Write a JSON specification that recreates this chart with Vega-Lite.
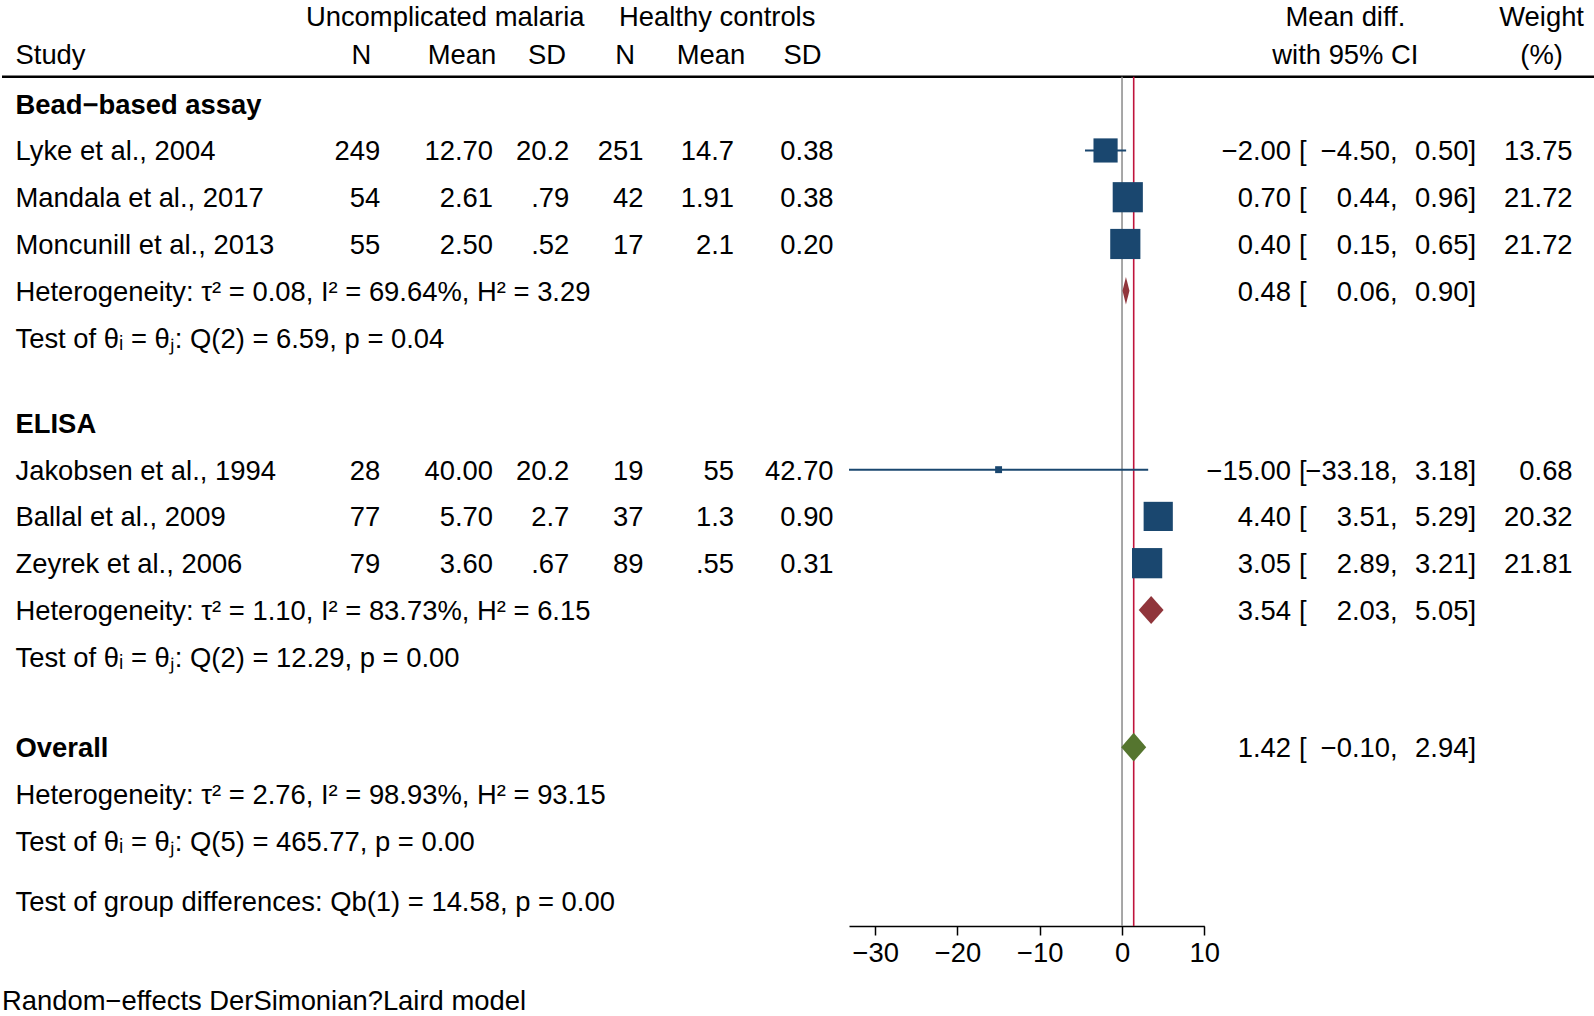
{
"$schema":"https://vega.github.io/schema/vega-lite/v6.json",
"width":1594,"height":926,"padding":0,"autosize":{"type":"pad"},"background":"#ffffff",
"config":{"view":{"stroke":null},"text":{"font":"Liberation Sans","fontSize":27.4,"color":"#000000","baseline":"middle","dy":2}},
"title":{"text":"Random−effects DerSimonian?Laird model","orient":"bottom","anchor":"start","frame":"group","font":"Liberation Sans","fontSize":27.4,"fontWeight":"normal","color":"#000000","offset":22},
"datasets":{
"rows":[
{"row":3,"kind":"study","study":"Lyke et al., 2004","n1":249,"mean1":12.70,"sd1":"20.2","n2":251,"mean2":"14.7","sd2":0.38,"es":-2.00,"lo":-4.50,"hi":0.50,"weight":13.75},
{"row":4,"kind":"study","study":"Mandala et al., 2017","n1":54,"mean1":2.61,"sd1":".79","n2":42,"mean2":"1.91","sd2":0.38,"es":0.70,"lo":0.44,"hi":0.96,"weight":21.72},
{"row":5,"kind":"study","study":"Moncunill et al., 2013","n1":55,"mean1":2.50,"sd1":".52","n2":17,"mean2":"2.1","sd2":0.20,"es":0.40,"lo":0.15,"hi":0.65,"weight":21.72},
{"row":10,"kind":"study","study":"Jakobsen et al., 1994","n1":28,"mean1":40.00,"sd1":"20.2","n2":19,"mean2":"55","sd2":42.70,"es":-15.00,"lo":-33.18,"hi":3.18,"weight":0.68},
{"row":11,"kind":"study","study":"Ballal et al., 2009","n1":77,"mean1":5.70,"sd1":"2.7","n2":37,"mean2":"1.3","sd2":0.90,"es":4.40,"lo":3.51,"hi":5.29,"weight":20.32},
{"row":12,"kind":"study","study":"Zeyrek et al., 2006","n1":79,"mean1":3.60,"sd1":".67","n2":89,"mean2":".55","sd2":0.31,"es":3.05,"lo":2.89,"hi":3.21,"weight":21.81},
{"row":6,"kind":"summary","grp":"Bead","es":0.48,"lo":0.06,"hi":0.90},
{"row":13,"kind":"summary","grp":"ELISA","es":3.54,"lo":2.03,"hi":5.05},
{"row":16,"kind":"summary","grp":"Overall","es":1.42,"lo":-0.10,"hi":2.94}
],
"labels":[
{"row":2,"label":"Bead−based assay","kind":"group"},
{"row":6,"label":"Heterogeneity: τ² = 0.08, I² = 69.64%, H² = 3.29","kind":"stat"},
{"row":7,"label":"Test of θᵢ = θⱼ: Q(2) = 6.59, p = 0.04","kind":"stat"},
{"row":9,"label":"ELISA","kind":"group"},
{"row":13,"label":"Heterogeneity: τ² = 1.10, I² = 83.73%, H² = 6.15","kind":"stat"},
{"row":14,"label":"Test of θᵢ = θⱼ: Q(2) = 12.29, p = 0.00","kind":"stat"},
{"row":16,"label":"Overall","kind":"group"},
{"row":17,"label":"Heterogeneity: τ² = 2.76, I² = 98.93%, H² = 93.15","kind":"stat"},
{"row":18,"label":"Test of θᵢ = θⱼ: Q(5) = 465.77, p = 0.00","kind":"stat"},
{"row":19,"label":"Test of group differences: Qb(1) = 14.58, p = 0.00","kind":"stat"}
]
},
"layer":[
{"layer":[
{"data":{"values":[{}]},"mark":{"type":"rule","color":"#000000","strokeWidth":2.6},
 "encoding":{"y":{"datum":1.46,"type":"quantitative","scale":{"type":"linear","domain":[0,1,2,7,9,14,16,18,19,20],"range":[16.3,53.9,103.7,337.5,422.9,656.7,747.2,840.7,900.7,926],"zero":false,"nice":false},"axis":null}}},
{"data":{"values":[{"row":0,"label":"Uncomplicated malaria"}]},"mark":{"type":"text","align":"center"},
 "encoding":{"x":{"datum":3,"type":"quantitative","scale":{"type":"linear","domain":[0,1,2,3,4,5,6,7,8,9,10,11,12,13,14,15,16,17,18,19,20,21],"range":[13.5,359.4,378.2,443.2,460,491,545,567.3,623.2,641.5,709,715.2,732,800.6,831.6,1289,1297,1343.4,1388,1466.4,1539.6,1570.6],"zero":false,"nice":false},"axis":null},
 "y":{"field":"row","type":"quantitative","scale":{"type":"linear","domain":[0,1,2,7,9,14,16,18,19,20],"range":[16.3,53.9,103.7,337.5,422.9,656.7,747.2,840.7,900.7,926],"zero":false,"nice":false},"axis":null},"text":{"field":"label"}}},
{"data":{"values":[{"row":0,"label":"Healthy controls"}]},"mark":{"type":"text","align":"center"},
 "encoding":{"x":{"datum":11,"type":"quantitative","axis":null},"y":{"field":"row","type":"quantitative","axis":null},"text":{"field":"label"}}},
{"data":{"values":[{"row":0,"label":"Mean diff."},{"row":1,"label":"with 95% CI"}]},"mark":{"type":"text","align":"center"},
 "encoding":{"x":{"datum":17,"type":"quantitative","axis":null},"y":{"field":"row","type":"quantitative","axis":null},"text":{"field":"label"}}},
{"data":{"values":[{"row":0,"label":"Weight"},{"row":1,"label":"(%)"}]},"mark":{"type":"text","align":"center"},
 "encoding":{"x":{"datum":20,"type":"quantitative","axis":null},"y":{"field":"row","type":"quantitative","axis":null},"text":{"field":"label"}}},
{"data":{"values":[{"row":1,"label":"Study"}]},"mark":{"type":"text","align":"left"},
 "encoding":{"x":{"datum":0,"type":"quantitative","axis":null},"y":{"field":"row","type":"quantitative","axis":null},"text":{"field":"label"}}},
{"data":{"values":[{"row":1,"label":"N"}]},"mark":{"type":"text","align":"center"},
 "encoding":{"x":{"datum":1,"type":"quantitative","axis":null},"y":{"field":"row","type":"quantitative","axis":null},"text":{"field":"label"}}},
{"data":{"values":[{"row":1,"label":"Mean"}]},"mark":{"type":"text","align":"center"},
 "encoding":{"x":{"datum":4,"type":"quantitative","axis":null},"y":{"field":"row","type":"quantitative","axis":null},"text":{"field":"label"}}},
{"data":{"values":[{"row":1,"label":"SD"}]},"mark":{"type":"text","align":"center"},
 "encoding":{"x":{"datum":6,"type":"quantitative","axis":null},"y":{"field":"row","type":"quantitative","axis":null},"text":{"field":"label"}}},
{"data":{"values":[{"row":1,"label":"N"}]},"mark":{"type":"text","align":"center"},
 "encoding":{"x":{"datum":8,"type":"quantitative","axis":null},"y":{"field":"row","type":"quantitative","axis":null},"text":{"field":"label"}}},
{"data":{"values":[{"row":1,"label":"Mean"}]},"mark":{"type":"text","align":"center"},
 "encoding":{"x":{"datum":10,"type":"quantitative","axis":null},"y":{"field":"row","type":"quantitative","axis":null},"text":{"field":"label"}}},
{"data":{"values":[{"row":1,"label":"SD"}]},"mark":{"type":"text","align":"center"},
 "encoding":{"x":{"datum":13,"type":"quantitative","axis":null},"y":{"field":"row","type":"quantitative","axis":null},"text":{"field":"label"}}},
{"data":{"name":"rows"},"transform":[{"filter":{"field":"kind","equal":"study"}}],"mark":{"type":"text","align":"left"},
 "encoding":{"x":{"datum":0,"type":"quantitative","axis":null},"y":{"field":"row","type":"quantitative","axis":null},"text":{"field":"study"}}},
{"data":{"name":"labels"},"transform":[{"filter":"datum.kind !== 'group'"}],"mark":{"type":"text","align":"left"},
 "encoding":{"x":{"datum":0,"type":"quantitative","axis":null},"y":{"field":"row","type":"quantitative","axis":null},"text":{"field":"label"}}},
{"data":{"name":"labels"},"transform":[{"filter":"datum.kind === 'group'"}],"mark":{"type":"text","align":"left","fontWeight":"bold"},
 "encoding":{"x":{"datum":0,"type":"quantitative","axis":null},"y":{"field":"row","type":"quantitative","axis":null},"text":{"field":"label"}}},
{"data":{"name":"rows"},"transform":[{"filter":{"field":"kind","equal":"study"}}],"mark":{"type":"text","align":"right"},
 "encoding":{"x":{"datum":2,"type":"quantitative","axis":null},"y":{"field":"row","type":"quantitative","axis":null},"text":{"field":"n1","type":"quantitative","format":"d"}}},
{"data":{"name":"rows"},"transform":[{"filter":{"field":"kind","equal":"study"}}],"mark":{"type":"text","align":"right"},
 "encoding":{"x":{"datum":5,"type":"quantitative","axis":null},"y":{"field":"row","type":"quantitative","axis":null},"text":{"field":"mean1","type":"quantitative","format":".2f"}}},
{"data":{"name":"rows"},"transform":[{"filter":{"field":"kind","equal":"study"}}],"mark":{"type":"text","align":"right"},
 "encoding":{"x":{"datum":7,"type":"quantitative","axis":null},"y":{"field":"row","type":"quantitative","axis":null},"text":{"field":"sd1","type":"nominal"}}},
{"data":{"name":"rows"},"transform":[{"filter":{"field":"kind","equal":"study"}}],"mark":{"type":"text","align":"right"},
 "encoding":{"x":{"datum":9,"type":"quantitative","axis":null},"y":{"field":"row","type":"quantitative","axis":null},"text":{"field":"n2","type":"quantitative","format":"d"}}},
{"data":{"name":"rows"},"transform":[{"filter":{"field":"kind","equal":"study"}}],"mark":{"type":"text","align":"right"},
 "encoding":{"x":{"datum":12,"type":"quantitative","axis":null},"y":{"field":"row","type":"quantitative","axis":null},"text":{"field":"mean2","type":"nominal"}}},
{"data":{"name":"rows"},"transform":[{"filter":{"field":"kind","equal":"study"}}],"mark":{"type":"text","align":"right"},
 "encoding":{"x":{"datum":14,"type":"quantitative","axis":null},"y":{"field":"row","type":"quantitative","axis":null},"text":{"field":"sd2","type":"quantitative","format":".2f"}}},
{"data":{"name":"rows"},"mark":{"type":"text","align":"right"},
 "encoding":{"x":{"datum":15,"type":"quantitative","axis":null},"y":{"field":"row","type":"quantitative","axis":null},"text":{"field":"es","type":"quantitative","format":".2f"}}},
{"data":{"name":"rows"},"mark":{"type":"text","align":"left"},
 "encoding":{"x":{"datum":16,"type":"quantitative","axis":null},"y":{"field":"row","type":"quantitative","axis":null},"text":{"value":"["}}},
{"data":{"name":"rows"},"mark":{"type":"text","align":"right"},
 "encoding":{"x":{"datum":18,"type":"quantitative","axis":null},"y":{"field":"row","type":"quantitative","axis":null},"text":{"field":"lo","type":"quantitative","format":".2f"}}},
{"data":{"name":"rows"},"mark":{"type":"text","align":"left"},
 "encoding":{"x":{"datum":18,"type":"quantitative","axis":null},"y":{"field":"row","type":"quantitative","axis":null},"text":{"value":","}}},
{"data":{"name":"rows"},"mark":{"type":"text","align":"right"},
 "encoding":{"x":{"datum":19,"type":"quantitative","axis":null},"y":{"field":"row","type":"quantitative","axis":null},"text":{"field":"hi","type":"quantitative","format":".2f"}}},
{"data":{"name":"rows"},"mark":{"type":"text","align":"left"},
 "encoding":{"x":{"datum":19,"type":"quantitative","axis":null},"y":{"field":"row","type":"quantitative","axis":null},"text":{"value":"]"}}},
{"data":{"name":"rows"},"transform":[{"filter":{"field":"kind","equal":"study"}}],"mark":{"type":"text","align":"right"},
 "encoding":{"x":{"datum":21,"type":"quantitative","axis":null},"y":{"field":"row","type":"quantitative","axis":null},"text":{"field":"weight","type":"quantitative","format":".2f"}}}
]},
{"layer":[
{"data":{"values":[{}]},"mark":{"type":"rule","color":"#8a8a8a","strokeWidth":1.5},
 "encoding":{"x":{"datum":0,"type":"quantitative","title":null,"scale":{"type":"linear","domain":[-33.18,10],"range":[847,1202.3],"zero":false,"nice":false},
   "axis":{"values":[-30,-20,-10,0,10],"title":null,"grid":false,"orient":"bottom","domainColor":"#000000","domainWidth":1.5,"tickColor":"#000000","tickWidth":1.5,"tickSize":9,"labelPadding":4,"labelFont":"Liberation Sans","labelFontSize":27.4,"labelColor":"#000000","labelOverlap":false,"labelFlush":false,"format":"d"}},
  "y":{"datum":1.46,"type":"quantitative","axis":null},"y2":{"datum":20}}},
{"data":{"name":"rows"},"transform":[{"filter":{"field":"grp","equal":"Overall"}}],"mark":{"type":"rule","color":"#c0143c","strokeWidth":1.6},
 "encoding":{"x":{"field":"es","type":"quantitative","title":null},"y":{"datum":1.46,"type":"quantitative","axis":null},"y2":{"datum":20}}},
{"data":{"name":"rows"},"transform":[{"filter":{"field":"kind","equal":"study"}}],"mark":{"type":"rule","color":"#1a476f","strokeWidth":2},
 "encoding":{"x":{"field":"lo","type":"quantitative","title":null},"x2":{"field":"hi"},"y":{"field":"row","type":"quantitative","axis":null}}},
{"data":{"name":"rows"},"transform":[{"filter":{"field":"kind","equal":"study"}}],"mark":{"type":"point","shape":"square","filled":true,"opacity":1,"color":"#1a476f","strokeWidth":0},
 "encoding":{"x":{"field":"es","type":"quantitative","title":null},"y":{"field":"row","type":"quantitative","axis":null},
  "size":{"field":"weight","type":"quantitative","scale":{"domain":[0,21.81],"range":[20,914]},"legend":null}}},
{"data":{"name":"rows"},"transform":[{"filter":{"field":"kind","equal":"summary"}}],"mark":{"type":"point","filled":true,"opacity":1,"strokeWidth":0,"size":784},
 "encoding":{"x":{"field":"es","type":"quantitative","title":null},"y":{"field":"row","type":"quantitative","axis":null},
  "shape":{"field":"grp","type":"nominal","scale":{"domain":["Bead","ELISA","Overall"],"range":["M-0.247,0L0,-0.99L0.247,0L0,0.99Z","M-0.888,0L0,-1L0.888,0L0,1Z","M-0.894,0L0,-1.025L0.894,0L0,1.025Z"]},"legend":null},
  "color":{"field":"grp","type":"nominal","scale":{"domain":["Bead","ELISA","Overall"],"range":["#90353b","#90353b","#55752f"]},"legend":null}}}
]}
],
"resolve":{"scale":{"x":"independent"}}
}
